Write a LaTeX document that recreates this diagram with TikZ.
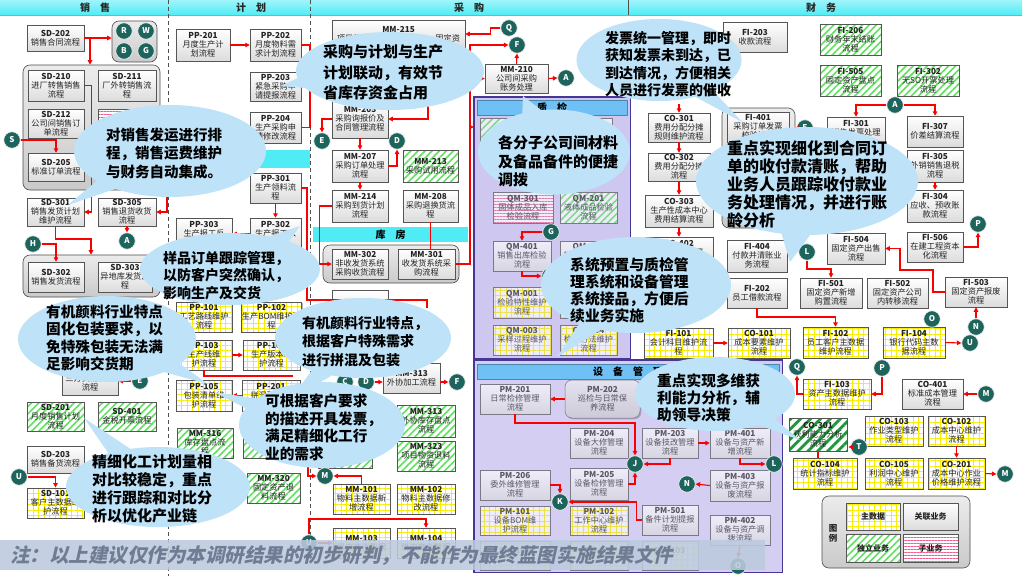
\documentclass[tikz,border=0pt]{standalone}
\usepackage{fontspec}
\setmainfont{Noto Sans CJK SC}
\newfontfamily\notefont{Noto Sans CJK SC}[FakeSlant=0.22]
\usetikzlibrary{patterns.meta,shadows,shapes.callouts,shapes.geometric,calc,arrows.meta}
\definecolor{hdr}{RGB}{80,236,246}
\definecolor{hdrb}{RGB}{90,190,215}
\definecolor{bord}{RGB}{85,85,85}
\definecolor{txtc}{RGB}{35,35,35}
\definecolor{boxbot}{RGB}{220,220,220}
\definecolor{ygrid}{RGB}{250,238,0}
\definecolor{lgreen}{RGB}{95,225,95}
\definecolor{dgreen}{RGB}{30,150,60}
\definecolor{pinkc}{RGB}{240,90,140}
\definecolor{tealc}{RGB}{28,100,92}
\definecolor{calf}{RGB}{190,226,248}
\definecolor{lav}{RGB}{206,200,240}
\definecolor{frameb}{RGB}{70,55,150}
\definecolor{subh}{RGB}{110,192,245}
\definecolor{notec}{RGB}{112,124,148}
\definecolor{footf}{RGB}{188,202,222}
\definecolor{sepc}{RGB}{80,80,80}
\definecolor{redc}{RGB}{250,0,0}
\tikzset{
 bxbase/.style={rectangle, inner sep=0.5pt, align=center, text=txtc, draw=bord, line width=0.5pt, font=\fontsize{8.2}{9.2}\selectfont},
 shd/.style={drop shadow={shadow xshift=1.3pt, shadow yshift=-1.3pt, opacity=0.3, fill=black}},
 gbx/.style={bxbase, shd, top color=white, bottom color=boxbot},
 rbx/.style={bxbase, shd, rounded corners=7pt, top color=gray!12, bottom color=gray!40, draw=gray!60!black},
 ybx/.style={bxbase, shd, preaction={fill=white}, pattern={Hatch[angle=0,distance=5.5pt,line width=0.9pt]}, pattern color=ygrid},
 grbx/.style={bxbase, shd, preaction={fill=white}, pattern={Lines[angle=45,distance=5pt,line width=1.6pt]}, pattern color=lgreen},
 dgbx/.style={bxbase, shd, preaction={fill=white}, pattern={Lines[angle=45,distance=7pt,line width=2.8pt]}, pattern color=dgreen},
 pkbx/.style={bxbase, shd, preaction={fill=white}, pattern={Lines[angle=0,distance=3pt,line width=0.6pt]}, pattern color=pinkc},
 grp/.style={rectangle, rounded corners=7pt, draw=gray!60!black, line width=0.6pt, top color=gray!15, bottom color=gray!42, inner sep=0pt},
 circ/.style={circle, fill=tealc, draw=white!85!gray, line width=0.7pt, text=white, font=\bfseries\fontsize{8}{8}\selectfont, minimum size=16.5pt, inner sep=0pt},
 ar/.style={draw=redc, line width=1.1pt, -{Triangle[length=4.5pt,width=4.5pt]}},
 ln/.style={draw=redc, line width=1.1pt},
 sep/.style={draw=sepc, line width=0.8pt, dash pattern=on 4pt off 3pt},
 hdrtxt/.style={font=\bfseries\fontsize{10}{10}\selectfont, text=black!85, inner sep=0pt},
 subhdr/.style={fill=subh, draw=subh!70!black, line width=0.4pt, font=\bfseries\fontsize{10}{10}\selectfont, inner sep=0pt},
 callo/.style={ellipse callout, fill=calf, inner sep=0pt, draw=none},
 ctext/.style={anchor=north west, inner sep=0pt, align=left, text=black},
}
\newcommand\bx[8]{\node[#2, minimum width=#5pt-#3pt, minimum height=#6pt-#4pt] (#1) at ({(#3+#5)/2},{(#4+#6)/2}) {\textbf{#7}\\#8};}
\newcommand\rg[5]{\node[grp, minimum width=#4pt-#2pt, minimum height=#5pt-#3pt] (#1) at ({(#2+#4)/2},{(#3+#5)/2}) {};}
\newcommand\cir[4]{\node[circ] (#1) at (#2,#3) {#4};}
\newcommand\clt[7]{\node[callo, minimum width=#4pt, minimum height=#5pt, callout absolute pointer={(#6,#7)}] (#1) at (#2,#3) {};}
\newcommand\ctx[6]{\node[ctext, font=\bfseries\fontsize{#4}{#5}\selectfont] (#1) at (#2,#3) {#6};}
\begin{document}
\begin{tikzpicture}[x=1pt,y=-1pt]
\useasboundingbox (0,0) rectangle (1024,576);
\fill[white] (0,0) rectangle (1024,576);
% header
\fill[top color=hdr!55!white, bottom color=hdr] (0,0) rectangle (1022,15);
\draw[hdrb, line width=0.5pt] (0,15) -- (1022,15);
\node[hdrtxt] (h1) at (95,8) {销\quad 售};
\node[hdrtxt] (h2) at (251,8) {计\quad 划};
\node[hdrtxt] (h3) at (469,8) {采\quad 购};
\node[hdrtxt] (h4) at (821,8) {财\quad 务};
\draw[sep] (168,0) -- (168,576);
\draw[sep] (310,0) -- (310,540);
\draw[sepc, line width=0.5pt] (628,0) -- (628,15);
\fill[hdr] (170,150) rectangle (310,168);
\node[fill=hdr, minimum width=155pt, minimum height=15pt, font=\bfseries\fontsize{10}{10}\selectfont, inner sep=0pt] (kufang) at (390.5,234.5) {库\quad 房};
% frames background
\node[fill=lav, minimum width=156pt, minimum height=261pt, inner sep=0pt] (qmf) at (552,227.5) {};
\node[fill=lav!80!white, minimum width=308pt, minimum height=212pt, inner sep=0pt] (pmf) at (628,466) {};
% groups
\rg{gSDa}{23}{65}{160}{190}
\rg{gSDb}{23}{255}{160}{297}
\rg{gRW}{112}{21}{157}{62}
\rg{gMM}{323}{245}{459}{283}
\rg{gFI}{722}{108}{795}{228}
\rg{gLeg}{822}{496}{970}{568}
% sales
\bx{sd202}{gbx}{27}{25}{84}{51}{SD-202}{销售合同流程}
\bx{sd210}{gbx}{28}{70}{84}{101}{SD-210}{进厂转售销售\\流程}
\bx{sd211}{gbx}{98}{70}{156}{101}{SD-211}{厂外转销售流\\程}
\bx{sd212}{gbx}{28}{109}{84}{138}{SD-212}{公司间销售订\\单流程}
\bx{sd213}{pkbx}{98}{109}{156}{138}{SD-213}{}
\bx{sd205}{gbx}{28}{153}{84}{181}{SD-205}{标准订单流程}
\bx{sd301}{gbx}{27}{198}{84}{226}{SD-301}{销售发货计划\\维护流程}
\bx{sd305}{gbx}{98}{198}{156}{226}{SD-305}{销售退货收货\\流程}
\bx{sd302}{gbx}{28}{262}{84}{292}{SD-302}{销售发货流程}
\bx{sd303}{gbx}{98}{262}{152}{292}{SD-303}{异地库发货流\\程}
\bx{sdtri}{gbx}{62}{362}{118}{395}{SD-206}{三方贸易订单\\流程}
\bx{sd201}{grbx}{27}{402}{84}{431}{SD-201}{月度销售计划\\流程}
\bx{sd401}{grbx}{98}{402}{156}{431}{SD-401}{金税开票流程}
\bx{sd203}{gbx}{27}{446}{84}{473}{SD-203}{销售备货流程}
\bx{sd101}{ybx}{27}{488}{84}{518}{SD-101}{客户主数据维\\护流程}
% plan
\bx{pp201}{gbx}{176}{29}{230}{61}{PP-201}{月度生产计\\划流程}
\bx{pp202}{gbx}{250}{29}{301}{61}{PP-202}{月度物料需\\求计划流程}
\bx{pp203}{gbx}{250}{72}{301}{101}{PP-203}{紧急采购申\\请提报流程}
\bx{pp204}{gbx}{250}{112}{301}{143}{PP-204}{生产采购申\\请修改流程}
\bx{pp301}{gbx}{250}{173}{301}{203}{PP-301}{生产领料流\\程}
\bx{pp302}{gbx}{250}{218}{301}{250}{PP-302}{生产报工入\\库流程}
\bx{pp303}{gbx}{176}{218}{232}{250}{PP-303}{生产报工反\\冲流程}
\bx{pp101}{ybx}{176}{302}{232}{332}{PP-101}{工艺路线维护\\流程}
\bx{pp102}{ybx}{243}{302}{300}{332}{PP-102}{生产BOM维护流\\程}
\bx{pp103}{ybx}{176}{340}{232}{370}{PP-103}{生产线维\\护流程}
\bx{pp104}{ybx}{243}{340}{300}{370}{PP-104}{生产版本维\\护流程}
\bx{pp105}{ybx}{176}{380}{232}{411}{PP-105}{包装清单维\\护流程}
\bx{pp201b}{ybx}{242}{380}{300}{411}{PP-201}{拼混配方维\\护流程}
\bx{mm316}{grbx}{177}{428}{233}{458}{MM-316}{库存盘点流\\程}
\bx{mmg1}{grbx}{243}{423}{300}{458}{}{}
\bx{mm320}{grbx}{247}{473}{300}{503}{MM-320}{固定资产退\\料流程}
% purchase
\bx{mm215}{gbx}{332}{20}{465}{48}{MM-215}{项目物资采购流程　　　　固定资}
\bx{mm205}{gbx}{332}{100}{388}{138}{MM-205}{采购询报价及\\合同管理流程}
\bx{mm207}{gbx}{332}{150}{388}{182}{MM-207}{采购订单处理\\流程}
\bx{mm213}{grbx}{403}{150}{458}{182}{MM-213}{采购试用流程}
\bx{mm214}{gbx}{332}{190}{388}{222}{MM-214}{采购到货计划\\流程}
\bx{mm208}{gbx}{403}{190}{458}{222}{MM-208}{采购退换货流\\程}
\bx{mm302}{gbx}{332}{249}{388}{279}{MM-302}{非收发货系统\\采购收货流程}
\bx{mm301}{gbx}{398}{249}{455}{279}{MM-301}{收发货系统采\\购流程}
\bx{mm210}{gbx}{485}{64}{548}{93}{MM-210}{公司间采购\\账务处理}
\bx{mm307}{gbx}{332}{290}{388}{325}{MM-307}{}
\bx{mmwx}{gbx}{383}{363}{440}{393}{MM-313}{外协加工流程}
\bx{mm313}{grbx}{397}{405}{455}{437}{MM-313}{外协库存盘点\\流程}
\bx{mm323}{grbx}{397}{441}{455}{471}{MM-323}{项目物资退料\\流程}
\bx{mmg2}{grbx}{318}{430}{372}{468}{}{}
\bx{mm101}{ybx}{333}{484}{390}{514}{MM-101}{物料主数据新\\增流程}
\bx{mm102}{ybx}{397}{484}{455}{514}{MM-102}{物料主数据修\\改流程}
\bx{mm103}{ybx}{333}{528}{390}{558}{MM-103}{供应商主数据}
\bx{mm104}{ybx}{397}{528}{455}{558}{MM-104}{供应商主数据}
% quality
\bx{qm101}{grbx}{480}{118}{540}{150}{QM-101}{}
\bx{qm102}{gbx}{552}{118}{612}{150}{QM-102}{}
\bx{qm301}{pkbx}{493}{192}{553}{223}{QM-301}{固体成品入库\\检验流程}
\bx{qm201}{grbx}{560}{192}{617}{223}{QM-201}{液体成品检验\\流程}
\bx{qm401}{gbx}{493}{241}{551}{271}{QM-401}{销售出库检验\\流程}
\bx{qm402}{gbx}{560}{241}{617}{271}{QM-402}{销售退货检验\\流程}
\bx{qm001}{ybx}{493}{287}{551}{318}{QM-001}{检验特性维护\\流程}
\bx{qm002}{ybx}{560}{287}{617}{318}{QM-002}{}
\bx{qm003}{ybx}{493}{325}{551}{355}{QM-003}{采样过程维护\\流程}
\bx{qm004}{ybx}{560}{325}{617}{355}{QM-004}{检验方法维护\\流程}
% equipment
\bx{pm201}{gbx}{480}{384}{550}{414}{PM-201}{日常检修管理\\流程}
\bx{pm202}{rbx}{565}{380}{640}{418}{PM-202}{巡检与日常保\\养流程}
\bx{pm204}{gbx}{570}{428}{628}{458}{PM-204}{设备大修管理\\流程}
\bx{pm203}{gbx}{642}{428}{698}{458}{PM-203}{设备技改管理\\流程}
\bx{pm401}{gbx}{710}{428}{770}{458}{PM-401}{设备与资产新\\增流程}
\bx{pm206}{gbx}{480}{470}{550}{500}{PM-206}{委外维修管理\\流程}
\bx{pm205}{gbx}{570}{468}{628}{500}{PM-205}{设备检修管理\\流程}
\bx{pm403}{gbx}{710}{470}{770}{501}{PM-403}{设备与资产报\\废流程}
\bx{pm101}{ybx}{480}{506}{550}{535}{PM-101}{设备BOM维\\护流程}
\bx{pm102}{ybx}{570}{506}{628}{535}{PM-102}{工作中心维护\\流程}
\bx{pm501}{gbx}{642}{505}{698}{535}{PM-501}{备件计划提报\\流程}
\bx{pm402}{gbx}{710}{515}{770}{545}{PM-402}{设备与资产调\\拨流程}
\bx{pm104}{ybx}{480}{541}{550}{570}{PM-104}{}
\bx{pm105}{ybx}{570}{541}{628}{570}{PM-105}{}
\bx{pm103}{ybx}{642}{541}{698}{570}{PM-103}{}
% finance
\bx{fi203}{gbx}{723}{22}{787}{52}{FI-203}{收款流程}
\bx{fi206}{grbx}{820}{24}{881}{55}{FI-206}{财务年末结账\\流程}
\bx{fi505}{grbx}{820}{65}{881}{96}{FI-505}{固定资产盘点\\流程}
\bx{fi302}{grbx}{897}{65}{959}{96}{FI-302}{无SO开票处理\\流程}
\bx{fi301}{gbx}{827}{117}{885}{149}{FI-301}{销售发票处理\\流程}
\bx{fi307}{gbx}{907}{116}{963}{147}{FI-307}{价差结算流程}
\bx{fi305}{gbx}{907}{150}{963}{182}{FI-305}{外销销售退税\\流程}
\bx{fi304}{gbx}{907}{190}{963}{222}{FI-304}{应收、预收账\\款流程}
\bx{fi506}{gbx}{907}{232}{963}{262}{FI-506}{在建工程资本\\化流程}
\bx{fi504}{gbx}{827}{233}{885}{264}{FI-504}{固定资产出售\\流程}
\bx{fi503}{gbx}{945}{277}{1007}{307}{FI-503}{固定资产报废\\流程}
\bx{fi501}{gbx}{800}{278}{862}{308}{FI-501}{固定资产新增\\购置流程}
\bx{fi502}{gbx}{867}{278}{928}{308}{FI-502}{固定资产公司\\内转移流程}
\bx{fi401}{gbx}{727}{112}{789}{142}{FI-401}{采购订单发票\\校验流程}
\bx{fi404}{gbx}{727}{240}{787}{272}{FI-404}{付款并清账业\\务流程}
\bx{fi202}{gbx}{727}{278}{787}{308}{FI-202}{员工借款流程}
\bx{co301}{gbx}{648}{113}{710}{142}{CO-301}{费用分配分摊\\规则维护流程}
\bx{co302}{gbx}{648}{153}{710}{181}{CO-302}{费用分配分摊\\流程}
\bx{co303}{gbx}{645}{195}{713}{227}{CO-303}{生产性成本中心\\费用结算流程}
\bx{co402}{gbx}{645}{237}{713}{268}{CO-402}{产品成本结算\\流程}
\bx{fi101}{ybx}{644}{328}{713}{358}{FI-101}{会计科目维护流\\程}
\bx{co101}{ybx}{728}{328}{790}{358}{CO-101}{成本要素维护\\流程}
\bx{fi102}{ybx}{803}{327}{868}{358}{FI-102}{员工客户主数据\\维护流程}
\bx{fi104}{ybx}{883}{327}{945}{358}{FI-104}{银行代码主数\\据流程}
\bx{fi103}{ybx}{803}{379}{871}{409}{FI-103}{资产主数据维护\\流程}
\bx{co401}{gbx}{902}{379}{963}{409}{CO-401}{标准成本管理\\流程}
\bx{co301g}{dgbx}{789}{418}{847}{451}{CO-301}{获利能力分析\\流程}
\bx{co103}{ybx}{865}{416}{923}{446}{CO-103}{作业类型维护\\流程}
\bx{co102}{ybx}{928}{416}{985}{446}{CO-102}{成本中心维护\\流程}
\bx{co104}{ybx}{793}{458}{857}{489}{CO-104}{统计指标维护\\流程}
\bx{co105}{ybx}{865}{458}{923}{489}{CO-105}{利润中心维护\\流程}
\bx{co201}{ybx}{928}{458}{985}{489}{CO-201}{成本中心作业\\价格维护流程}
% legend
\node[font=\bfseries\fontsize{8.5}{10}\selectfont, align=center, inner sep=0pt, text=txtc] (legt) at (833,533) {图\\例};
\node[ybx, minimum width=54pt, minimum height=27pt, font=\bfseries\fontsize{8}{9}\selectfont] (lg1) at (873,516.5) {主数据};
\node[gbx, minimum width=55pt, minimum height=27pt, font=\bfseries\fontsize{8}{9}\selectfont] (lg2) at (930.5,516.5) {关联业务};
\node[grbx, minimum width=54pt, minimum height=28pt, font=\bfseries\fontsize{8}{9}\selectfont] (lg3) at (873,548) {独立业务};
\node[pkbx, minimum width=55pt, minimum height=28pt, font=\bfseries\fontsize{8}{9}\selectfont] (lg4) at (930.5,548) {子业务};
% frame overlays
\fill[lav, opacity=0.32] (qmf.north west) rectangle (qmf.south east);
\fill[lav, opacity=0.32] (pmf.north west) rectangle (pmf.south east);
\draw[frameb, line width=1.4pt] (qmf.north west) rectangle (qmf.south east);
\draw[frameb, line width=1.4pt] (pmf.north west) rectangle (pmf.south east);
\node[subhdr, minimum width=150pt, minimum height=15pt] (qmh) at (552,107.5) {质\quad 检};
\node[subhdr, minimum width=302pt, minimum height=15pt] (pmh) at (628,371.5) {设\quad 备\quad 管\quad 理};
% circles
\cir{cR}{124}{31}{R}\cir{cW}{146}{31}{W}\cir{cB}{124}{51}{B}\cir{cG1}{146}{51}{G}
\cir{cS}{12}{140}{S}\cir{cA1}{127}{241}{A}\cir{cH}{33}{244}{H}\cir{cE2}{140}{381}{E}\cir{cU1}{19}{477}{U}
\cir{cQ1}{509}{28}{Q}\cir{cF1}{517}{45}{F}\cir{cA2}{566}{78}{A}\cir{cE1}{322}{141}{E}\cir{cD1}{397}{141}{D}
\cir{cC2}{345}{382}{C}\cir{cD2}{366}{382}{D}\cir{cF2}{457}{382}{F}\cir{cM1}{325}{476}{M}\cir{cU2}{309}{543}{U}
\cir{cG2}{551}{232}{G}\cir{cX1}{550}{276}{}\cir{cX2}{624}{250}{}
\cir{cJ}{635}{464}{J}\cir{cK}{560}{502}{K}\cir{cN2}{687}{484}{N}\cir{cO2}{738}{566}{O}\cir{cL2}{774}{464}{L}
\cir{cA3}{895}{105}{A}\cir{cE3}{805}{128}{E}\cir{cP1}{978}{224}{P}\cir{cL1}{807}{252}{L}\cir{cN1}{976}{327}{N}
\cir{cO1}{932}{319}{O}\cir{cU3}{970}{343}{U}\cir{cQ3}{797}{367}{Q}\cir{cP2}{882}{368}{P}\cir{cM2}{986}{394}{M}
\cir{cT}{859}{447}{T}\cir{cM3}{1005}{474}{M}
% connectors: sales
\coordinate (j1) at (90,38);
\draw[ar] (sd202.east) -- (gRW.west |- sd202.east);
\draw[ar] (j1) -- (j1 |- gSDa.north);
\draw[ar] (cS.east) -| (sd205.north);
\draw[ar] (sd210.east) -- ++(7,0) |- (sd301.east);
\coordinate (j2) at (167,182);
\draw[ar] (j2) |- (sd305.east);
\draw[ar] (sd305.south) -- (cA1.north);
\coordinate (j3) at (91,239);
\draw[ar] (sd301.south) |- (j3) -- (j3 |- gSDb.north);
\draw[ar] (cH.east) -| (sd302.north);
\draw[ar] (cE2.west) -- (sdtri.east |- cE2.west);
\draw[ar] (cU1.east) -| (sd101.north);
% plan
\draw[ar] (pp201.east) -- (pp202.west);
\coordinate (j4) at (310,127.5);
\draw[ln] (pp202.east) -| (j4) -- (pp204.east);
\draw[ar] (pp301.south) -- (pp302.north);
\draw[ar] (pp302.west) -- (pp303.east);
\coordinate (j5) at (307,300);
\coordinate (j6) at (427,308);
\draw[ln] (pp301.east) -| (j5) -| (j6);
\draw[ar] (pp103.east) -- (pp104.west);
\draw[ar] (pp201b.west) -- (pp105.east);
\coordinate (j7) at (293,376);
\draw[ln] (pp103.south) |- (j7);
% purchase
\draw[ar] (cQ1.west) -- ++(-10,0) |- (mm215.east);
\coordinate (j8) at (470,45);
\draw[ar] (mm301.east) -| (j8) -- (cF1.west);
\coordinate (j9) at (470,78.5);
\draw[ar] (j9) -- (mm210.west);
\coordinate (j10) at (470,127);
\draw[ar] (j10) -- (qmf.west |- j10);
\draw[ar] (mm210.north) -- (cF1.south);
\draw[ar] (mm210.east) -- (cA2.west);
\coordinate (j11) at (428,48);
\draw[ar] (j11) |- (mm205.east);
\draw[ar] (mm205.west) -| (cE1.north);
\draw[ar] (mm205.south) -- (mm207.north);
\draw[ar] (mm207.east) -| (cD1.south);
\draw[ar] (mm207.south) -- (mm214.north);
\draw[ar] (mm214.west) -- ++(-12,0) |- (mm302.west);
\draw[ln] (mm208.south) -- (mm208.south |- mm301.north);
\draw[ar] (cD2.east) -- (mmwx.west |- cD2.east);
\draw[ar] (mmwx.east |- cF2.west) -- (cF2.west);
\draw[ar] (mm101.north) |- (cM1.east);
\coordinate (j12) at (308,466);
\draw[ar] (j12) |- (cM1.west);
\draw[ar] (cU2.east) -- (mm103.west |- cU2.east);
\coordinate (j13) at (426,519);
\draw[ar] (cU2.north) |- (j13) -- (j13 |- mm104.north);
% quality
\draw[ar] (cG2.west) -| (qm401.north);
\draw[ar] (qm401.south) |- (cX1.west);
% equipment
\draw[ar] (pm202.west) -- (pm201.east |- pm202.west);
\coordinate (j14) at (635,423);
\draw[ar] (pm201.south) |- (j14) -- (cJ.north);
\draw[ar] (pm203.south) |- (cJ.east);
\draw[ar] (pm205.east) -| (cJ.south);
\draw[ar] (pm203.east) -- (pm401.west);
\draw[ar] (pm401.south) |- (cL2.west);
\draw[ar] (pm206.east) -| (cK.north);
\draw[ar] (pm501.west) -- ++(-5,0) |- (cK.east);
\draw[ar] (pm403.west) -- (cN2.east);
\draw[ar] (pm402.south) -- (cO2.north);
% finance
\draw[ar] (cA3.west) -| (fi301.north);
\draw[ar] (cA3.east) -| (fi307.north);
\draw[ar] (fi305.south) -- (fi304.north);
\draw[ar] (cE3.west) -- (gFI.east |- cE3.west);
\draw[ar] (fi506.east) -| (cP1.south);
\coordinate (j15) at (933,270);
\coordinate (j16) at (900,248.5);
\draw[ar] (fi503.west) -| (j15) -| (j16) -- (fi504.east);
\draw[ar] (cN1.north) -- (fi503.south);
\coordinate (j17) at (831,269);
\draw[ar] (cL1.south) |- (j17) -- (fi501.north);
\coordinate (j18) at (679,104);
\draw[ar] (j18) -- (co301.north);
\draw[ar] (co301.south) -- (co302.north);
\draw[ar] (co302.south) -- (co303.north);
\draw[ar] (co303.south) -- (co402.north);
\coordinate (j19) at (835.5,317);
\draw[ar] (fi202.south) |- (j19) -- (fi102.north);
\draw[ar] (fi101.east) -- (co101.west);
\draw[ar] (fi104.east) -- (cU3.west);
\draw[ar] (cP2.south) |- (fi103.east);
\draw[ar] (fi103.west) -| (cQ3.south);
\draw[ar] (cM2.west) -- (co401.east);
\draw[ar] (cT.west) -- (co301g.east |- cT.west);
\draw[ln] (co301g.south) -- (co301g.south |- co104.north);
\draw[ar] (co102.south) -- (co201.north);
\draw[ar] (co201.east) -- (cM3.west);
% callouts
\clt{k1}{170}{151}{192}{92}{68}{205}
\ctx{k1t}{106}{127.5}{14.5}{18.5}{对销售发运进行排\\程，销售运费维护\\与财务自动集成。}
\clt{k2}{390}{71}{188}{78}{280}{86}
\ctx{k2t}{323}{44.5}{15}{20.5}{采购与计划与生产\\计划联动，有效节\\省库存资金占用}
\clt{k3}{659}{60}{165}{82}{742}{122}
\ctx{k3t}{605}{31}{14}{17.5}{发票统一管理，即时\\获知发票未到达，已\\到达情况，方便相关\\人员进行发票的催收}
\clt{k4}{554}{152}{152}{85}{523}{96}
\ctx{k4t}{498}{135.5}{15}{18.5}{各分子公司间材料\\及备品备件的便捷\\调拨}
\clt{k5}{807}{181}{222}{108}{790}{262}
\ctx{k5t}{727}{140}{16}{18.2}{重点实现细化到合同订\\单的收付款清账，帮助\\业务人员跟踪收付款业\\务处理情况，并进行账\\龄分析}
\clt{k6}{230}{269}{180}{72}{300}{226}
\ctx{k6t}{163}{251}{14}{17.5}{样品订单跟踪管理，\\以防客户突然确认，\\影响生产及交货}
\clt{k7}{107}{339}{178}{86}{208}{384}
\ctx{k7t}{46}{304.5}{14.6}{17.5}{有机颜料行业特点\\固化包装要求，以\\免特殊包装无法满\\足影响交货期}
\clt{k8}{363}{338}{176}{80}{290}{400}
\ctx{k8t}{302}{316}{14}{18.5}{有机颜料行业特点，\\根据客户特殊需求\\进行拼混及包装}
\clt{k9}{322}{425}{166}{86}{214}{392}
\ctx{k9t}{265}{393.5}{14.6}{17.7}{可根据客户要求\\的描述开具发票，\\满足精细化工行\\业的需求}
\clt{k10}{158}{487}{184}{80}{84}{418}
\ctx{k10t}{92}{454.5}{15}{18}{精细化工计划量相\\对比较稳定，重点\\进行跟踪和对比分\\析以优化产业链}
\clt{k11}{636}{285}{190}{96}{557}{357}
\ctx{k11t}{570}{257.5}{14.8}{17}{系统预置与质检管\\理系统和设备管理\\系统接品，方便后\\续业务实施}
\clt{k12}{715}{394}{160}{74}{800}{440}
\ctx{k12t}{657}{373.5}{14.7}{17}{重点实现多维获\\利能力分析，辅\\助领导决策}
% footer
\fill[footf, opacity=0.88] (0,540) rectangle (765,570);
\node[anchor=west, text=notec, font=\notefont\bfseries\fontsize{19.5}{20}\selectfont, inner sep=0pt] (note) at (10,556) {注：以上建议仅作为本调研结果的初步研判，不能作为最终蓝图实施结果文件};
\end{tikzpicture}
\end{document}
